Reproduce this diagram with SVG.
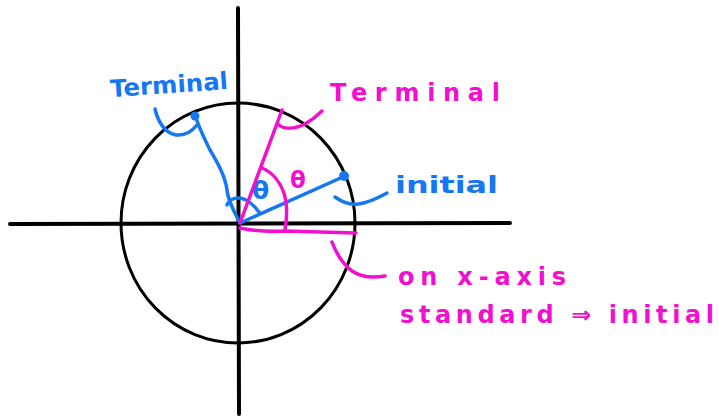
<svg xmlns="http://www.w3.org/2000/svg" width="719" height="417" viewBox="0 0 719 417">
<style>
.k{fill:none;stroke:#000;stroke-width:4;stroke-linecap:round}
.c{fill:none;stroke:#000;stroke-width:3}
.b{fill:none;stroke:#1677f2;stroke-width:3.5;stroke-linecap:round;stroke-linejoin:round}
.m{fill:none;stroke:#f20fcf;stroke-width:3.5;stroke-linecap:round;stroke-linejoin:round}
.tb{fill:#1677f2;font-family:"DejaVu Sans","Liberation Sans",sans-serif;font-weight:bold}
.tm{fill:#f20fcf;font-family:"DejaVu Sans","Liberation Sans",sans-serif;font-weight:bold}
</style>
<rect width="719" height="417" fill="#fff"/>
<g id="axes">
<line class="k" x1="10" y1="224" x2="510" y2="223"/>
<line class="k" x1="238" y1="8" x2="239" y2="414"/>
</g>
<ellipse id="circle" class="c" cx="238" cy="223" rx="117" ry="120"/>
<g id="blue">
<path class="b" d="M240,223 C233,210 228,200 227,190 C225,175 217,162 210,150 C204,138 198,125 195,115"/>
<circle cx="195" cy="116" r="4.5" fill="#1677f2"/>
<path class="b" d="M155,109 C158,122 165,133 176,135 C186,136 193,130 197,125"/>
<path class="b" d="M240,223 L345,176"/>
<circle cx="344" cy="176" r="5" fill="#1677f2"/>
<path class="b" d="M335,197 C342,202 350,205 358,204 C368,203 378,198 387,193"/>
<path class="b" d="M227,205 C230,198 238,196 246,200 C252,203 256,208 259,212"/>
<text class="tb" x="110" y="93" font-size="24" textLength="118" lengthAdjust="spacingAndGlyphs" transform="rotate(-4 170 85)">Terminal</text>
<text class="tb" x="395" y="193" font-size="23" textLength="103" lengthAdjust="spacingAndGlyphs">initial</text>
<text class="tb" x="252" y="199" font-size="25" font-weight="normal">θ</text>
</g>
<g id="magenta">
<path class="m" d="M240,223 L282,110"/>
<path class="m" d="M278,124 C283,130 295,129 305,124 C312,120 318,115 322,111"/>
<path class="m" d="M262,168 C272,172 280,182 284,193 C288,205 287,218 285,230"/>
<path class="m" d="M240,228 C255,231 270,232 285,231 L356,233"/>
<path class="m" d="M332,242 C336,253 343,264 352,271 C362,278 374,278 385,276"/>
<text class="tm" x="290" y="188" font-size="23" font-weight="normal">θ</text>
<text class="tm" x="330" y="101" font-size="24" textLength="170" lengthAdjust="spacing">Terminal</text>
<text class="tm" x="398" y="285" font-size="24" textLength="168" lengthAdjust="spacing">on x-axis</text>
<text class="tm" x="400" y="323" font-size="24" textLength="314" lengthAdjust="spacing">standard ⇒ initial</text>
</g>
</svg>
